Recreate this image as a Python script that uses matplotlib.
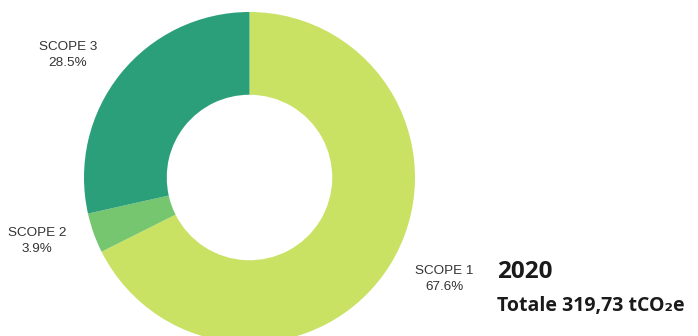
import matplotlib
matplotlib.use("Agg")
import matplotlib.pyplot as plt

categories = ["SCOPE 1", "SCOPE 2", "SCOPE 3"]
shares = [67.6, 3.9, 28.5]
colors = ["#c9e264", "#76c56f", "#2a9f7a"]
year = "2020"
total_label = "Totale 319,73 tCO\u2082e"

W, H = 698, 336
fig = plt.figure(figsize=(W / 100, H / 100), dpi=100)
ax = fig.add_axes([0, 0, 1, 1])

cx, cy, r = 249.5, H - 177.5, 165.5
ax.pie(shares, colors=colors, startangle=90, counterclock=False,
       center=(cx, cy), radius=r, frame=True,
       wedgeprops=dict(width=r * 0.5, linewidth=0))
ax.set_xlim(0, W)
ax.set_ylim(0, H)
ax.set_aspect("equal")
ax.axis("off")

label_pos = {"SCOPE 1": (444, H - 279), "SCOPE 2": (37, H - 241), "SCOPE 3": (68, H - 55)}
for cat, val in zip(categories, shares):
    x, y = label_pos[cat]
    ax.text(x, y, f"{cat}\n{val:.1f}%", ha="center", va="center",
            fontsize=9.7, family=["Liberation Sans"], color="#333333",
            linespacing=1.55)

ax.text(497, H - 272, year, ha="left", va="center", fontsize=17.5,
        fontweight="bold", family=["Open Sans", "DejaVu Sans"], color="#1a1a1a")
ax.text(497, H - 306, total_label, ha="left", va="center", fontsize=14,
        fontweight="bold", family=["Open Sans", "DejaVu Sans"], color="#1a1a1a")

fig.savefig("out.png", dpi=100)
